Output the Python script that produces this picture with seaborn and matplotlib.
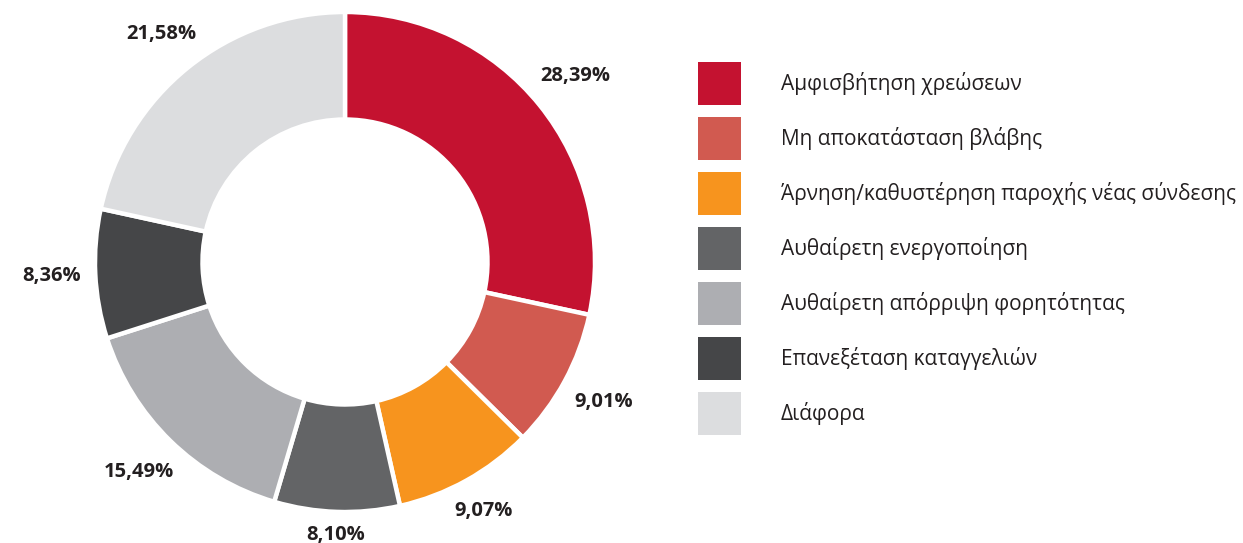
import matplotlib
matplotlib.use("Agg")
import numpy as np
import matplotlib.pyplot as plt
import seaborn as sns
from matplotlib.patches import Patch

categories = [
    "Αμφισβήτηση χρεώσεων",
    "Μη αποκατάσταση βλάβης",
    "Άρνηση/καθυστέρηση παροχής νέας σύνδεσης",
    "Αυθαίρετη ενεργοποίηση",
    "Αυθαίρετη απόρριψη φορητότητας",
    "Επανεξέταση καταγγελιών",
    "Διάφορα",
]
values = [28.39, 9.01, 9.07, 8.10, 15.49, 8.36, 21.58]
colors = ["#c41230", "#d15a50", "#f7941e", "#636466", "#adaeb2", "#454648", "#dcdddf"]

sns.set_theme(style="white")
plt.rcParams["font.family"] = ["Open Sans", "DejaVu Sans"]
palette = sns.color_palette(colors)

W, H = 1243, 543
fig = plt.figure(figsize=(W / 100, H / 100), dpi=100)
cx, cy, R = 345, 262, 250
ax = fig.add_axes([(cx - R) / W, (H - cy - R) / H, 2 * R / W, 2 * R / H])

def fmt(p):
    return f"{p:.2f}".replace(".", ",") + "%"

wedges, texts, autotexts = ax.pie(
    values,
    colors=palette,
    startangle=90,
    counterclock=False,
    radius=1.0,
    autopct=fmt,
    pctdistance=1.16,
    wedgeprops=dict(width=0.43, edgecolor="white", linewidth=3.2),
    textprops=dict(fontsize=14.5, fontweight="bold", color="#231f20"),
)
ax.set_xlim(-1, 1)
ax.set_ylim(-1, 1)
ax.set_aspect("equal")
ax.axis("off")

# place percentage labels just outside the outer edge (outside-end style)
fig.canvas.draw()
renderer = fig.canvas.get_renderer()
gap_px = 14
for w, t in zip(wedges, autotexts):
    ang = np.deg2rad((w.theta1 + w.theta2) / 2)
    bb = t.get_window_extent(renderer)
    hw, hh = bb.width / 2, bb.height / 2 * 0.8
    d_px = R + gap_px + abs(np.cos(ang)) * hw + abs(np.sin(ang)) * hh
    d = d_px / R
    t.set_position((d * np.cos(ang), d * np.sin(ang)))

fs = 15
px = fs * 100 / 72
sq = 43 / px
hh_leg = (sq - 0.245) / 0.65
handles = [Patch(facecolor=w.get_facecolor(), edgecolor="none") for w in wedges]

leg = fig.legend(
    handles, categories,
    loc="upper left",
    bbox_to_anchor=(698 / W, 1 - 62 / H),
    bbox_transform=fig.transFigure,
    frameon=False,
    fontsize=fs,
    handlelength=sq,
    handleheight=hh_leg,
    handletextpad=(781 - 741) / px,
    labelspacing=(55 - 43) / px,
    borderpad=0,
    borderaxespad=0,
)
for t in leg.get_texts():
    t.set_color("#231f20")

fig.savefig("out.png", dpi=100, facecolor="white")
